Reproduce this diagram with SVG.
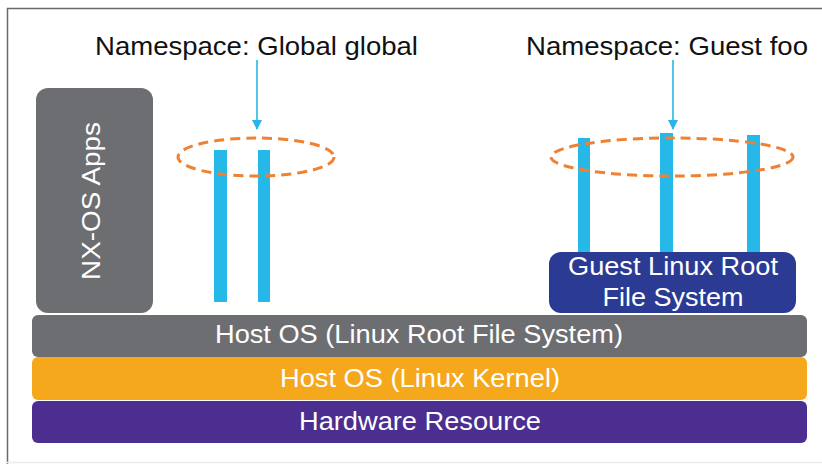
<svg xmlns="http://www.w3.org/2000/svg" width="822" height="464" viewBox="0 0 822 464">
<defs>
<style>
.t{font-family:"Liberation Sans",Arial,sans-serif;font-size:25px}
.w{fill:#ffffff}
.k{fill:#111111}
.bar{fill:#27b8ea}
.ring{fill:none;stroke:#ef8133;stroke-width:3;stroke-dasharray:10 6}
.arr{stroke:#29b6e6;stroke-width:1.6;fill:none}
</style>
<marker id="ah" viewBox="0 0 10 10" refX="9" refY="5" markerWidth="10" markerHeight="10" markerUnits="userSpaceOnUse" orient="auto">
<path d="M0,0 L10,5 L0,10 z" fill="#29b6e6"/>
</marker>
</defs>
<rect x="0" y="0" width="822" height="464" fill="#ffffff"/>
<path d="M7.5,464 V8.5 H822" fill="none" stroke="#6a6a6a" stroke-width="1.5"/>
<line x1="7" y1="462.5" x2="822" y2="462.5" stroke="#ececec" stroke-width="1.5"/>

<g id="hardware">
<rect x="32" y="401" width="775" height="42" rx="6" fill="#4b2e8f"/>
<text class="t w" x="420" y="430" text-anchor="middle" textLength="242" lengthAdjust="spacingAndGlyphs">Hardware Resource</text>
</g>
<g id="kernel">
<rect x="32" y="357" width="775" height="43" rx="6" fill="#f6a81c"/>
<text class="t w" x="420" y="387" text-anchor="middle" textLength="280" lengthAdjust="spacingAndGlyphs">Host OS (Linux Kernel)</text>
</g>
<g id="hostfs">
<rect x="32" y="315" width="775" height="42" rx="6" fill="#6d6e71"/>
<text class="t w" x="419" y="343" text-anchor="middle" textLength="408" lengthAdjust="spacingAndGlyphs">Host OS (Linux Root File System)</text>
</g>
<g id="nxos">
<rect x="36" y="88" width="117" height="225" rx="12" fill="#6d6e71"/>
<text class="t w" transform="translate(100,201) rotate(-90)" text-anchor="middle" textLength="158" lengthAdjust="spacingAndGlyphs">NX-OS Apps</text>
</g>
<g id="guestfs">
<rect x="549" y="252" width="247" height="61" rx="12" fill="#2b3a92"/>
<text class="t w" x="673" y="275" text-anchor="middle" textLength="210" lengthAdjust="spacingAndGlyphs">Guest Linux Root</text>
<text class="t w" x="673" y="306" text-anchor="middle" textLength="141" lengthAdjust="spacingAndGlyphs">File System</text>
</g>
<g id="ns-global">
<rect class="bar" x="214" y="150" width="13" height="152"/>
<rect class="bar" x="258" y="150" width="12" height="152"/>
<ellipse class="ring" cx="256" cy="157" rx="78" ry="19"/>
<text class="t k" x="95" y="55" textLength="323" lengthAdjust="spacingAndGlyphs">Namespace: Global global</text>
</g>
<g id="ns-guest">
<rect class="bar" x="578" y="138" width="12" height="114"/>
<rect class="bar" x="660" y="133" width="13" height="119"/>
<rect class="bar" x="747" y="135" width="13" height="117"/>
<ellipse class="ring" cx="672" cy="157" rx="121" ry="19"/>
<text class="t k" x="526" y="55" textLength="282" lengthAdjust="spacingAndGlyphs">Namespace: Guest foo</text>
</g>
<g id="connectors">
<line class="arr" x1="257" y1="60" x2="257" y2="129" marker-end="url(#ah)"/>
<line class="arr" x1="673" y1="60" x2="673" y2="129" marker-end="url(#ah)"/>
</g>
</svg>
